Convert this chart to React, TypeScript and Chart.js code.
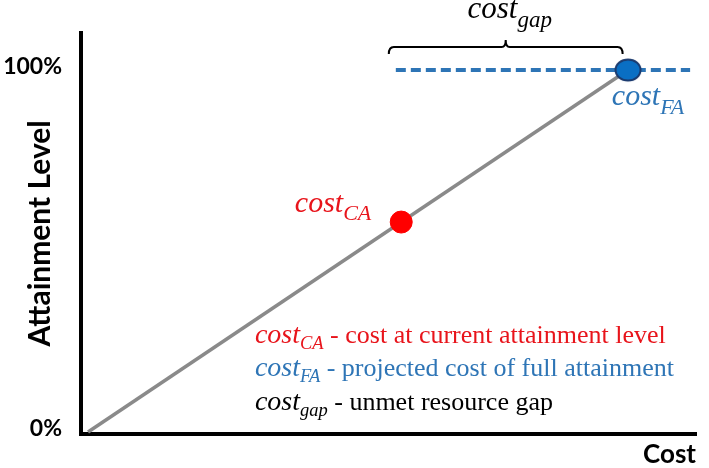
import React, { useEffect, useRef } from 'react';
import { Chart, registerables } from 'chart.js';

Chart.register(...registerables);

// ---- data ----
const costRange = [-1.3, 112.59];
const attainmentRange = [-0.55, 110.28];
const yTickValues = [0, 100];
const yTickLabels = ['0%', '100%'];
const trendCost = [0, 100];
const trendAttainment = [0, 100];
const fullLineCost = [57, 111.5];
const fullLineAttainment = [100, 100];
const currentCost = [58];
const currentAttainment = [58];
const fullCost = [100];
const fullAttainment = [100];
const gapRange = [55.7, 99];
const legendSubs = ['CA', 'FA', 'gap'];
const legendTexts = [
  ' - cost at current attainment level',
  ' - projected cost of full attainment',
  ' - unmet resource gap',
];
const legendColors = ['#e8141b', '#2e75b6', '#000000'];

const SERIF = '"Liberation Serif", "Times New Roman", serif';
const SANS = 'Lato, "Open Sans", sans-serif';

type Part = { text: string; font: string; dy: number };

function drawRich(ctx: CanvasRenderingContext2D, x: number, y: number, parts: Part[], color: string, align: 'left' | 'center') {
  let total = 0;
  for (const p of parts) {
    ctx.font = p.font;
    total += ctx.measureText(p.text).width;
  }
  let cx = align === 'center' ? x - total / 2 : x;
  ctx.fillStyle = color;
  ctx.textBaseline = 'alphabetic';
  ctx.textAlign = 'left';
  for (const p of parts) {
    ctx.font = p.font;
    ctx.fillText(p.text, cx, y + p.dy);
    cx += ctx.measureText(p.text).width;
  }
}

function label(main: number, sub: string, subSize: number, dy: number): Part[] {
  return [
    { text: 'cost', font: `italic ${main}px ${SERIF}`, dy: 0 },
    { text: sub, font: `italic ${subSize}px ${SERIF}`, dy },
  ];
}

const annotationPlugin = {
  id: 'annotations',
  afterDatasetsDraw(chart: any) {
    const ctx: CanvasRenderingContext2D = chart.ctx;
    const xs = chart.scales.x;
    const ys = chart.scales.y;
    const px = (v: number) => xs.getPixelForValue(v);
    const py = (v: number) => ys.getPixelForValue(v);
    ctx.save();

    // brace over the gap
    const bl = px(gapRange[0]);
    const br = px(gapRange[1]);
    const bm = (bl + br) / 2;
    const by = py(fullAttainment[0]) - 23;
    ctx.strokeStyle = '#000';
    ctx.lineWidth = 2;
    ctx.beginPath();
    ctx.moveTo(bl, by + 7);
    ctx.quadraticCurveTo(bl, by, bl + 5, by);
    ctx.lineTo(bm - 4, by);
    ctx.quadraticCurveTo(bm, by, bm, by - 7);
    ctx.quadraticCurveTo(bm, by, bm + 4, by);
    ctx.lineTo(br - 5, by);
    ctx.quadraticCurveTo(br, by, br, by + 7);
    ctx.stroke();

    // labels
    drawRich(ctx, bm + 4, by - 29, label(31, 'gap', 23, 9), '#000', 'center');
    drawRich(ctx, px(97), py(fullAttainment[0]) + 35, label(30, 'FA', 22, 9), '#2e75b6', 'left');
    drawRich(ctx, px(38.3), py(currentAttainment[0]) - 10, label(30, 'CA', 22, 8), '#e8141b', 'left');

    // legend
    const lx = px(30.9);
    const ly = py(24.6);
    for (let i = 0; i < legendSubs.length; i++) {
      const parts: Part[] = [
        ...label(28, legendSubs[i], 18.5, 6),
        { text: legendTexts[i], font: `26px ${SERIF}`, dy: 0 },
      ];
      drawRich(ctx, lx, ly + i * 33.5, parts, legendColors[i], 'left');
    }
    ctx.restore();
  },
};

function makeEllipse(): HTMLCanvasElement {
  const c = document.createElement('canvas');
  c.width = 30;
  c.height = 26;
  const g = c.getContext('2d')!;
  g.beginPath();
  g.ellipse(15, 13, 12.5, 10.5, 0, 0, Math.PI * 2);
  g.fillStyle = '#0a6fc4';
  g.fill();
  g.lineWidth = 2;
  g.strokeStyle = '#1b3a6e';
  g.stroke();
  return c;
}

export default function App() {
  const ref = useRef<HTMLCanvasElement>(null);
  useEffect(() => {
    document.body.style.margin = '0';
    const toXY = (xs: number[], ys: number[]) => xs.map((x, i) => ({ x, y: ys[i] }));
    const chart = new Chart(ref.current!, {
      type: 'scatter',
      data: {
        datasets: [
          { label: 'cost_CA', data: toXY(currentCost, currentAttainment), backgroundColor: '#ff0000', borderColor: '#ff0000', pointRadius: 11, order: 0 },
          { label: 'cost_FA', data: toXY(fullCost, fullAttainment), pointStyle: makeEllipse() as any, pointRadius: 12, order: 0 },
          { label: 'full attainment', data: toXY(fullLineCost, fullLineAttainment), showLine: true, borderColor: '#2e75b6', borderWidth: 4, borderDash: [10, 5], pointRadius: 0, order: 1 },
          { label: 'cost curve', data: toXY(trendCost, trendAttainment), showLine: true, borderColor: '#8a8a8a', borderWidth: 3.5, pointRadius: 0, order: 2 },
        ],
      },
      options: {
        animation: false,
        responsive: false,
        devicePixelRatio: 1,
        layout: { padding: { top: 31, right: 3, left: 0, bottom: 0 } },
        plugins: { legend: { display: false }, tooltip: { enabled: false } },
        scales: {
          x: {
            type: 'linear',
            min: costRange[0],
            max: costRange[1],
            grid: { display: false, drawTicks: false },
            border: { display: true, color: '#000', width: 4 },
            ticks: { display: false },
            title: { display: true, text: 'Cost', align: 'end', color: '#000', font: { family: SANS, size: 26, weight: 'bold', lineHeight: 1 }, padding: 0 },
            afterFit: (s: any) => { s.height = 34; },
          },
          y: {
            type: 'linear',
            min: attainmentRange[0],
            max: attainmentRange[1],
            grid: { display: false, drawTicks: false },
            border: { display: true, color: '#000', width: 4 },
            afterBuildTicks: (s: any) => { s.ticks = yTickValues.map((v) => ({ value: v })); },
            ticks: { color: '#000', padding: 19, labelOffset: -3, font: { family: SANS, size: 23, weight: 'bold' }, callback: (v: any) => yTickLabels[yTickValues.indexOf(Number(v))] ?? '' },
            title: { display: true, text: 'Attainment Level', color: '#000', font: { family: SANS, size: 30, weight: 'bold', lineHeight: 1 }, padding: { top: 25, bottom: 0 } },
            afterFit: (s: any) => { s.width = 81; },
          },
        },
      },
      plugins: [annotationPlugin],
    });
    return () => chart.destroy();
  }, []);
  return (
    <div style={{ position: 'absolute', left: 0, top: 0, width: 709, height: 468, background: '#fff' }}>
      <canvas ref={ref} width={709} height={468} />
    </div>
  );
}
